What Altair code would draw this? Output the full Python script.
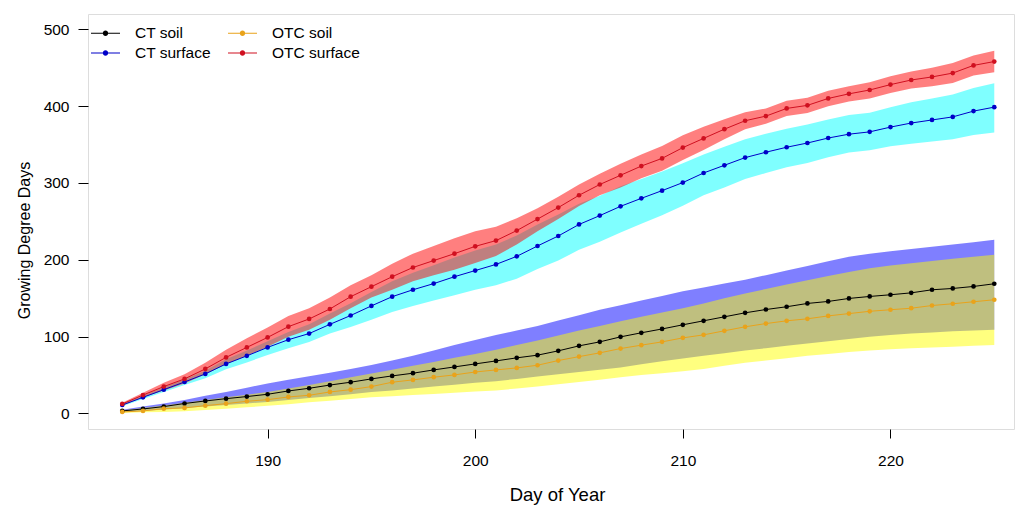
import altair as alt
import pandas as pd

# Day of year for every observation
days = list(range(183, 226))

# Mean cumulative growing degree days per treatment
ct_soil = [3.3, 5.9, 9, 13, 16.3, 19.3, 22, 25, 29.3, 32.8,
           37, 40.7, 45, 48.9, 52.4, 56.7, 60.6, 64.5, 68.4, 72.4,
           75.9, 81.5, 88, 93.2, 99.7, 105, 110, 115.4, 120.6, 125.8,
           131, 135.3, 138.9, 143.2, 145.8, 149.7, 152.3, 154.5, 157, 161,
           162.7, 165.3, 168.8]
otc_soil = [2, 3.3, 6.3, 7.2, 10.2, 12.8, 15.9, 18, 21.5, 23.7,
            28, 31, 35, 40.7, 43.7, 47.2, 50.2, 54, 56.7, 59.3,
            62.8, 68.9, 74, 78.9, 84.5, 88.9, 93.2, 98.4, 102.3, 107.6,
            112.8, 117, 120.6, 123.2, 127, 130, 133, 135, 137, 140.5,
            142.8, 145.4, 148]
ct_surface = [11, 21, 31, 41, 51.5, 64.5, 75, 86, 96, 104,
              116, 127.5, 140, 152, 161, 169, 178, 186, 194, 204.5,
              218, 231, 246, 257.5, 269.6, 280, 290, 300.5, 313, 323,
              333, 340, 346.5, 352, 358.5, 363.5, 366.5, 372.7, 378, 382,
              386, 393.5, 398.7]
otc_surface = [12.4, 24, 35, 45, 58, 73, 86, 99, 113, 123,
               136, 152, 165, 178, 190, 199, 208, 217.5, 225, 238,
               253, 268, 284, 298, 310, 322, 332, 346, 358, 370,
               381, 387, 397, 401, 410, 416, 421, 428, 434, 438,
               443, 453, 458]

# Lower / upper bounds of the shaded bands
ct_soil_lo = [2, 3.5, 5, 7, 9, 11, 13, 15, 17.5, 20,
              22.5, 25, 28, 30, 32.5, 35, 37.5, 40, 42, 45,
              48, 51, 54, 57, 60, 64, 68, 71.5, 75, 78.5,
              82, 85, 88, 91, 94, 97, 100, 102, 104, 105.5,
              107, 108, 109]
ct_soil_hi = [5, 9, 13, 17.5, 23, 28, 33.5, 39, 44, 48.5,
              53, 58, 63, 69, 75, 82, 89, 95.5, 102, 108,
              114, 121, 128, 135, 141, 147, 153, 159, 164, 169,
              174, 180, 186, 192, 198, 204, 208, 211, 214, 217,
              220, 223, 226]
otc_soil_lo = [0.5, 1.5, 2, 3, 4.5, 6, 8, 10, 12, 14.5,
               16.5, 19, 21, 22.5, 24, 25.5, 27, 28.5, 30, 32.5,
               35, 38, 41, 44, 47, 50, 52.5, 55, 58, 62,
               66, 69, 72, 75, 77.5, 80, 82, 83.5, 85, 86,
               87, 88, 89]
otc_soil_hi = [4, 7, 10.5, 14, 17.5, 21, 24.5, 28, 32.5, 37,
               42, 47, 52, 57, 62, 67, 72.5, 77.5, 83, 89,
               95, 101.5, 108, 114, 120, 126, 131.5, 137, 143, 150,
               156, 162, 168, 173.5, 179, 184, 189, 192.5, 195.5, 198.5,
               201.5, 204, 206.5]
ct_surface_lo = [9.5, 19, 28, 37, 46, 57.5, 66.5, 76, 85, 93,
                 104, 112.5, 122, 132, 140, 147, 154, 161, 167, 175.5,
                 188, 199, 213, 223.5, 235.6, 247, 258, 270.5, 284, 294,
                 305, 313, 320.5, 326, 333.5, 339.5, 342.5, 347.7, 351, 354,
                 357, 362.5, 365.7]
ct_surface_hi = [12.5, 23, 34, 44.5, 55.5, 70.5, 82, 94, 106, 116,
                 130, 143.5, 158, 172, 183, 193, 203, 212, 220, 231.5,
                 246, 259, 273, 283.5, 295.6, 305, 315, 325.5, 337, 347,
                 357, 364, 370.5, 376, 382.5, 388.5, 391.5, 398.7, 405, 410,
                 415, 423.5, 429.7]
otc_surface_lo = [10, 21, 30, 39, 51, 64, 75, 87, 100, 109,
                  122, 137, 151, 161, 172, 180, 187, 196, 205, 220,
                  237, 253, 270, 284, 294, 306, 316, 330, 343, 357,
                  370, 377, 387, 391, 400, 406, 410, 417, 423, 426,
                  430, 440, 444]
otc_surface_hi = [14, 27, 40, 51, 66, 83, 98, 112, 127, 137,
                  151, 167, 180, 195, 208, 218, 228, 237, 243, 254,
                  267, 282, 298, 312, 325, 337, 348, 362, 373, 383,
                  392, 397, 407, 411, 420, 426, 431, 439, 445, 450,
                  456, 466, 472]

# Legend grid fills column by column: CT entries left, OTC entries right
series_names = ["CT soil", "CT surface", "OTC soil", "OTC surface"]
line_colors = ["#000000", "#0000C8", "#E9A31B", "#D01020"]
series_values = {
    "CT soil": ct_soil,
    "CT surface": ct_surface,
    "OTC soil": otc_soil,
    "OTC surface": otc_surface,
}

lines_df = pd.DataFrame(
    [
        {"day": d, "gdd": v, "series": name, "rank": k}
        for k, name in enumerate(series_names)
        for d, v in zip(days, series_values[name])
    ]
)

# Bands: drawn cyan, blue, red, yellow so overlaps blend like the original
bands = [
    (ct_surface_lo, ct_surface_hi, "#00FFFF"),
    (ct_soil_lo, ct_soil_hi, "#0000FF"),
    (otc_surface_lo, otc_surface_hi, "#FF0000"),
    (otc_soil_lo, otc_soil_hi, "#FFFF00"),
]

FONT = "Liberation Sans"

x_scale = alt.Scale(domain=[181.35, 225.95], nice=False, zero=False)
y_scale = alt.Scale(domain=[-20.2, 519.9], nice=False, zero=False)

x_axis = alt.Axis(
    values=[190, 200, 210, 220], title="Day of Year", grid=False, domain=False,
    tickSize=9, tickColor="black", labelPadding=15, labelFontSize=15.5,
    labelColor="black", labelFont=FONT, titleFont=FONT, titleFontSize=18.5,
    titleFontWeight="normal", titleColor="black", titleX=469, titleY=71,
    titleBaseline="alphabetic",
)
y_axis = alt.Axis(
    values=[0, 100, 200, 300, 400, 500], title="Growing Degree Days", grid=False,
    domain=False, tickSize=10, tickColor="black", labelPadding=9,
    labelFontSize=15.5, labelColor="black", labelFont=FONT, titleFont=FONT,
    titleFontSize=16, titleFontWeight="normal", titleColor="black",
    titleX=-59, titleY=226, titleBaseline="alphabetic",
)

x_enc = alt.X("day:Q", scale=x_scale, axis=x_axis)

layers = []
for lo, hi, col in bands:
    band_df = pd.DataFrame({"day": days, "lo": lo, "hi": hi})
    layers.append(
        alt.Chart(band_df)
        .mark_area(color=col, opacity=0.5)
        .encode(
            x=x_enc,
            y=alt.Y("lo:Q", scale=y_scale, axis=y_axis),
            y2="hi:Q",
        )
    )

color_scale = alt.Scale(domain=series_names, range=line_colors)

# Legend glyph: short line with a dot in the middle
LEGEND_GLYPH = (
    "M-1.45,-0.05H-0.25V0.05H-1.45Z "
    "M0.25,-0.05H1.45V0.05H0.25Z "
    "M0.27,0A0.27,0.27,0,1,1,-0.27,0A0.27,0.27,0,1,1,0.27,0Z"
)

legend = alt.Legend(
    title=None, orient="none", legendX=7.5, legendY=9,
    columns=2, symbolType=LEGEND_GLYPH, symbolSize=400,
    symbolStrokeWidth=0, symbolOpacity=1,
    labelFont=FONT, labelFontSize=15.5, labelColor="black", labelOffset=19.5,
    rowPadding=1, columnPadding=16, padding=0, labelLimit=0,
)
color_enc = alt.Color("series:N", scale=color_scale, legend=legend)

lines = (
    alt.Chart(lines_df)
    .mark_line(strokeWidth=1)
    .encode(
        x=x_enc,
        y=alt.Y("gdd:Q", scale=y_scale, axis=y_axis),
        color=color_enc,
        detail="series:N",
        order="day:Q",
    )
)

points = (
    alt.Chart(lines_df)
    .mark_point(filled=True, size=22, opacity=1)
    .encode(
        x=x_enc,
        y=alt.Y("gdd:Q", scale=y_scale, axis=y_axis),
        color=color_enc,
        order="rank:Q",
    )
)

chart = (
    alt.layer(*layers, lines, points)
    .properties(
        width=926,
        height=415,
        padding={"left": 88, "top": 14, "right": 2, "bottom": 79},
        autosize=alt.AutoSizeParams(type="none"),
    )
    .configure_view(stroke="black", strokeWidth=1)
    .configure(background="white")
)

chart.save("out.html", embed_options={"renderer": "svg", "actions": False})
